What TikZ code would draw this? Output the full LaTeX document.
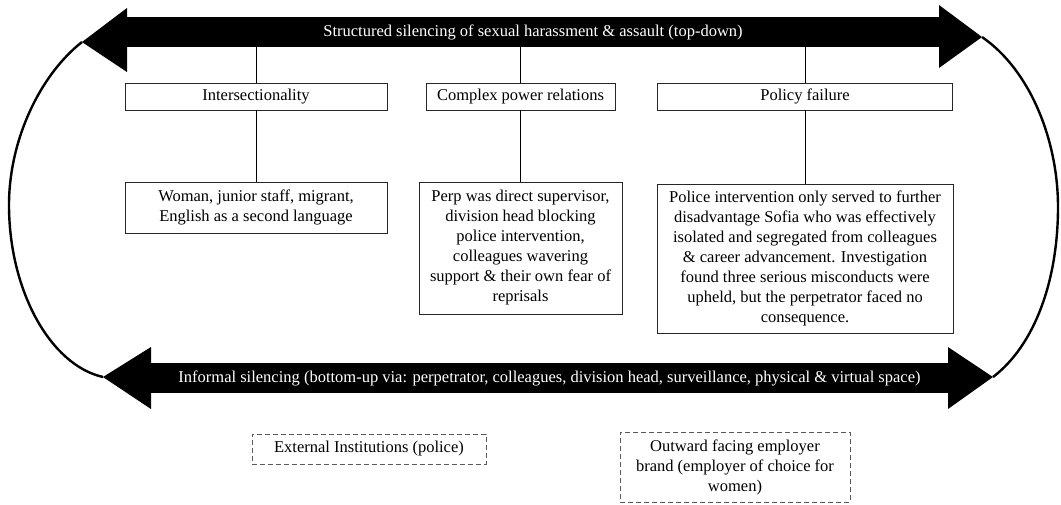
\documentclass[tikz,border=0pt]{standalone}
\usepackage{fontspec}
\setmainfont{Liberation Serif}
\begin{document}
\begin{tikzpicture}[x=1pt,y=-1pt,
  box/.style={draw=black!85,line width=0.9pt,inner sep=0pt,align=center,fill=white,
    font=\fontsize{16.5}{20}\selectfont},
  dbox/.style={box,draw=black!65,dash pattern=on 5pt off 3pt},
  bar/.style={fill=black,text=white,inner sep=0pt,minimum height=30pt,
    font=\fontsize{16.5}{20}\selectfont},
  conn/.style={draw=black,line width=0.9pt},
  loop/.style={draw=black,line width=2.4pt}]
\useasboundingbox (0,0) rectangle (1061,504);

% top arrow
\node[bar,minimum width=812pt] (topbar) at (533,32) {Structured silencing of sexual harassment \& assault (top-down)};
\coordinate (tl) at (82,42);
\coordinate (tr) at (982,37);
\fill (127,8) -- (tl) -- (127,72) -- cycle;
\fill (939,5) -- (tr) -- (939,68) -- cycle;

% bottom arrow
\node[bar,minimum width=797pt] (botbar) at (549.5,378) {Informal silencing (bottom-up via: perpetrator, colleagues, division head, surveillance, physical \& virtual space)};
\coordinate (bl) at (103,377);
\coordinate (br) at (993,377);
\fill (151,347) -- (bl) -- (151,409) -- cycle;
\fill (948,347) -- (br) -- (948,409) -- cycle;

% loops
\draw[loop] (tl) .. controls (40,75) and (9,140) .. (9,205) .. controls (9,290) and (50,365) .. (bl);
\draw[loop] (tr) .. controls (1030,70) and (1058,140) .. (1058,207) .. controls (1058,280) and (1035,345) .. (br);

% category boxes
\node[box,minimum width=262pt,minimum height=27pt] (int) at (256,96.5) {Intersectionality};
\node[box,minimum width=189pt,minimum height=27pt] (cpr) at (520.5,96.5) {Complex power relations};
\node[box,minimum width=295pt,minimum height=27pt] (pol) at (805,96.5) {Policy failure};

% detail boxes
\node[box,minimum width=262pt,minimum height=51pt] (wom) at (256,207.5) {Woman, junior staff, migrant,\\English as a second language};
\node[box,minimum width=203pt,minimum height=132pt] (perp) at (520.5,248) {Perp was direct supervisor,\\division head blocking\\police intervention,\\colleagues wavering\\support \& their own fear of\\reprisals};
\node[box,minimum width=296pt,minimum height=149pt] (polc) at (805,258.5) {Police intervention only served to further\\disadvantage Sofia who was effectively\\isolated and segregated from colleagues\\\& career advancement. Investigation\\found three serious misconducts were\\upheld, but the perpetrator faced no\\consequence.};

% dashed boxes
\node[dbox,minimum width=234pt,minimum height=30pt] (ext) at (369,449) {External Institutions (police)};
\node[dbox,minimum width=230pt,minimum height=70pt] (out) at (735,467) {Outward facing employer\\brand (employer of choice for\\women)};

% connectors
\draw[conn] (topbar.south -| int.north) -- (int.north);
\draw[conn] (topbar.south -| cpr.north) -- (cpr.north);
\draw[conn] (topbar.south -| pol.north) -- (pol.north);
\draw[conn] (int.south) -- (wom.north);
\draw[conn] (cpr.south) -- (perp.north -| cpr.south);
\draw[conn] (pol.south) -- (polc.north -| pol.south);
\end{tikzpicture}
\end{document}
